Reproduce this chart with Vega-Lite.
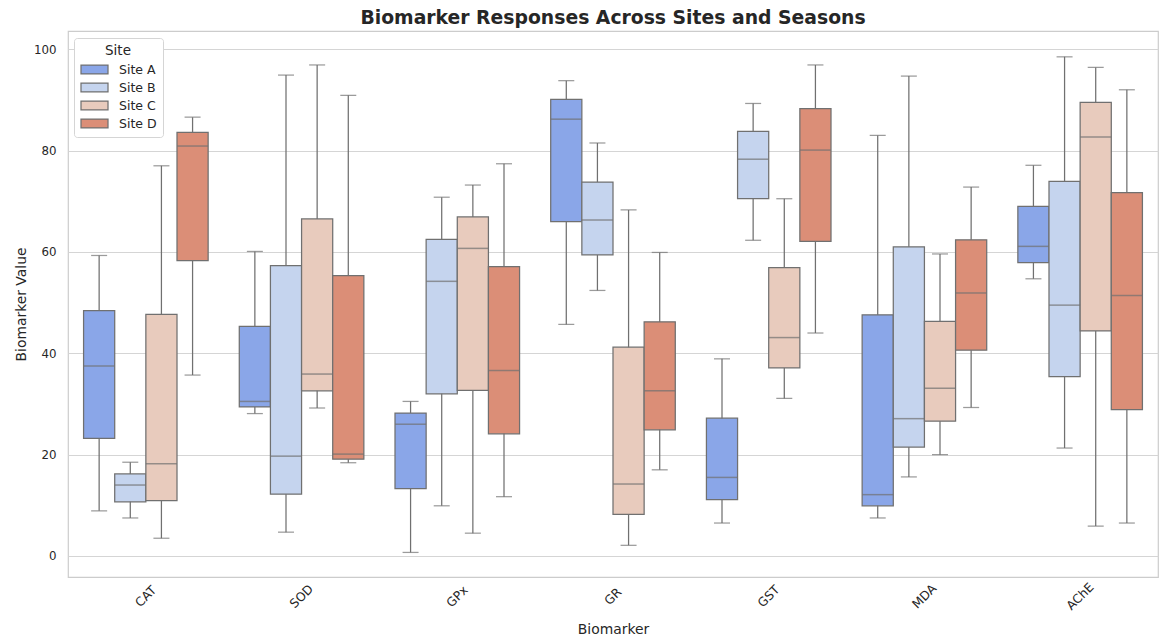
{
  "$schema": "https://vega.github.io/schema/vega-lite/v6.json",
  "width": 1090,
  "height": 546,
  "autosize": {"type": "none"},
  "padding": {"left": 68, "top": 31, "right": 2, "bottom": 65},
  "background": "white",
  "title": {"text": "Biomarker Responses Across Sites and Seasons", "fontSize": 18.8, "fontWeight": "bold", "font": "DejaVu Sans", "color": "#262626", "offset": 3, "anchor": "middle"},
  "config": {
    "font": "DejaVu Sans",
    "view": {"stroke": "#cccccc", "strokeWidth": 1.2},
    "axis": {"labelFont": "DejaVu Sans", "titleFont": "DejaVu Sans", "labelColor": "#262626", "titleColor": "#262626", "titleFontWeight": "normal", "gridColor": "#d5d5d5", "gridWidth": 1, "domain": false, "ticks": false}
  },
  "data": {"values": [
    {"biomarker": "CAT", "site": "Site A", "min": 8.9, "q1": 23.2, "median": 37.5, "q3": 48.4, "max": 59.3},
    {"biomarker": "CAT", "site": "Site B", "min": 7.5, "q1": 10.7, "median": 14.0, "q3": 16.2, "max": 18.5},
    {"biomarker": "CAT", "site": "Site C", "min": 3.5, "q1": 10.9, "median": 18.2, "q3": 47.7, "max": 77.0},
    {"biomarker": "CAT", "site": "Site D", "min": 35.7, "q1": 58.3, "median": 80.9, "q3": 83.6, "max": 86.6},
    {"biomarker": "SOD", "site": "Site A", "min": 28.1, "q1": 29.4, "median": 30.5, "q3": 45.3, "max": 60.1},
    {"biomarker": "SOD", "site": "Site B", "min": 4.7, "q1": 12.2, "median": 19.7, "q3": 57.3, "max": 94.9},
    {"biomarker": "SOD", "site": "Site C", "min": 29.2, "q1": 32.6, "median": 35.9, "q3": 66.5, "max": 96.9},
    {"biomarker": "SOD", "site": "Site D", "min": 18.4, "q1": 19.1, "median": 20.1, "q3": 55.3, "max": 90.9},
    {"biomarker": "GPx", "site": "Site A", "min": 0.7, "q1": 13.3, "median": 26.0, "q3": 28.2, "max": 30.5},
    {"biomarker": "GPx", "site": "Site B", "min": 9.9, "q1": 32.0, "median": 54.2, "q3": 62.5, "max": 70.8},
    {"biomarker": "GPx", "site": "Site C", "min": 4.5, "q1": 32.7, "median": 60.7, "q3": 66.9, "max": 73.2},
    {"biomarker": "GPx", "site": "Site D", "min": 11.7, "q1": 24.1, "median": 36.6, "q3": 57.1, "max": 77.4},
    {"biomarker": "GR", "site": "Site A", "min": 45.7, "q1": 66.0, "median": 86.2, "q3": 90.1, "max": 93.8},
    {"biomarker": "GR", "site": "Site B", "min": 52.4, "q1": 59.4, "median": 66.3, "q3": 73.8, "max": 81.5},
    {"biomarker": "GR", "site": "Site C", "min": 2.1, "q1": 8.2, "median": 14.2, "q3": 41.2, "max": 68.3},
    {"biomarker": "GR", "site": "Site D", "min": 17.0, "q1": 24.9, "median": 32.6, "q3": 46.2, "max": 59.9},
    {"biomarker": "GST", "site": "Site A", "min": 6.5, "q1": 11.1, "median": 15.5, "q3": 27.2, "max": 38.9},
    {"biomarker": "GST", "site": "Site B", "min": 62.3, "q1": 70.5, "median": 78.3, "q3": 83.8, "max": 89.3},
    {"biomarker": "GST", "site": "Site C", "min": 31.1, "q1": 37.1, "median": 43.1, "q3": 56.9, "max": 70.5},
    {"biomarker": "GST", "site": "Site D", "min": 44.0, "q1": 62.1, "median": 80.1, "q3": 88.3, "max": 96.9},
    {"biomarker": "MDA", "site": "Site A", "min": 7.5, "q1": 9.9, "median": 12.1, "q3": 47.6, "max": 83.0},
    {"biomarker": "MDA", "site": "Site B", "min": 15.6, "q1": 21.5, "median": 27.1, "q3": 61.0, "max": 94.7},
    {"biomarker": "MDA", "site": "Site C", "min": 20.0, "q1": 26.6, "median": 33.1, "q3": 46.3, "max": 59.6},
    {"biomarker": "MDA", "site": "Site D", "min": 29.3, "q1": 40.6, "median": 51.9, "q3": 62.4, "max": 72.8},
    {"biomarker": "AChE", "site": "Site A", "min": 54.7, "q1": 57.9, "median": 61.1, "q3": 69.0, "max": 77.1},
    {"biomarker": "AChE", "site": "Site B", "min": 21.3, "q1": 35.4, "median": 49.5, "q3": 73.9, "max": 98.5},
    {"biomarker": "AChE", "site": "Site C", "min": 5.9, "q1": 44.4, "median": 82.7, "q3": 89.5, "max": 96.4},
    {"biomarker": "AChE", "site": "Site D", "min": 6.5, "q1": 28.9, "median": 51.4, "q3": 71.7, "max": 92.0}
  ]},
  "encoding": {
    "x": {"field": "biomarker", "type": "nominal", "sort": ["CAT", "SOD", "GPx", "GR", "GST", "MDA", "AChE"],
      "scale": {"paddingInner": 0, "paddingOuter": 0},
      "axis": {"title": "Biomarker", "labelAngle": -45, "labelAlign": "center", "labelBaseline": "middle", "labelPadding": 19, "labelFontSize": 12.3, "titleFontSize": 13.9, "titlePadding": 11, "grid": false}},
    "xOffset": {"field": "site", "type": "nominal", "scale": {"paddingInner": 0, "paddingOuter": 0.5}}
  },
  "layer": [
    {
      "mark": {"type": "rule", "color": "#707070", "strokeWidth": 1.25},
      "encoding": {
        "y": {"field": "min", "type": "quantitative", "scale": {"domain": [-4.15, 103.6], "nice": false, "zero": false},
          "axis": {"title": "Biomarker Value", "values": [0, 20, 40, 60, 80, 100], "labelFontSize": 11.8, "titleFontSize": 13.9, "labelPadding": 12, "titlePadding": 5}},
        "y2": {"field": "max"}
      }
    },
    {
      "mark": {"type": "tick", "color": "#707070", "size": 16, "thickness": 1.25, "orient": "horizontal"},
      "encoding": {"y": {"field": "min", "type": "quantitative"}}
    },
    {
      "mark": {"type": "tick", "color": "#707070", "size": 16, "thickness": 1.25, "orient": "horizontal"},
      "encoding": {"y": {"field": "max", "type": "quantitative"}}
    },
    {
      "mark": {"type": "bar", "stroke": "#707070", "strokeWidth": 1.25, "opacity": 1},
      "encoding": {
        "y": {"field": "q1", "type": "quantitative"},
        "y2": {"field": "q3"},
        "color": {"field": "site", "type": "nominal",
          "scale": {"domain": ["Site A", "Site B", "Site C", "Site D"], "range": ["#8aa6e8", "#c5d4ee", "#e8cbbd", "#db8e77"]},
          "legend": {"title": "Site", "orient": "none", "legendX": 6, "legendY": 7, "titleAnchor": "middle", "titleFontSize": 13.5, "titleFontWeight": "normal", "titleColor": "#262626", "labelFontSize": 12.5, "labelColor": "#262626",
            "symbolType": "M-1,-0.33L1,-0.33L1,0.33L-1,0.33Z", "symbolSize": 729, "symbolStrokeColor": "#707070", "symbolStrokeWidth": 1.25, "symbolOpacity": 1, "clipHeight": 14, "rowPadding": 4, "labelOffset": 10,
            "padding": 6, "fillColor": "white", "strokeColor": "#d5d5d5", "cornerRadius": 3, "titlePadding": 5}}
      }
    },
    {
      "mark": {"type": "tick", "color": "#707070", "size": 31, "thickness": 1.5, "orient": "horizontal"},
      "encoding": {"y": {"field": "median", "type": "quantitative"}}
    }
  ]
}
